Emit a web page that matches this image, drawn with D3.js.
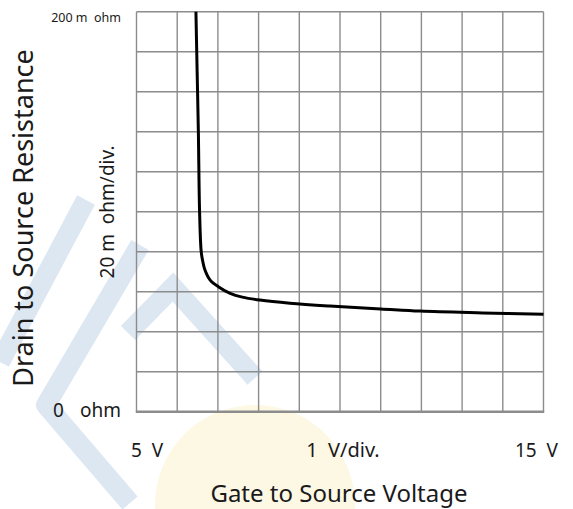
<!DOCTYPE html>
<html>
<head>
<meta charset="utf-8">
<script src="https://cdn.jsdelivr.net/npm/d3@7"></script>
<style>
  html, body { margin: 0; padding: 0; background: #fff; }
  svg { display: block; }
  text { font-family: "Noto Sans", "Open Sans", sans-serif; fill: #1a1a1a; }
</style>
</head>
<body>
<svg id="chart" width="573" height="509"></svg>
<script>
// ---- data ----
const vgs = [6.46, 6.49, 6.52, 6.55, 6.59, 6.63, 6.68, 6.81, 7.01, 7.30, 7.60, 8.03, 8.77, 9.75, 11.0, 11.97, 13.5, 15.0];
const rds = [200, 170, 140, 100, 80, 75, 71, 65.8, 62.5, 59.2, 57.3, 55.8, 54.2, 52.8, 51.4, 50.3, 49.4, 48.7];
const xDomain = [5, 15];
const yDomain = [0, 200];
const xTickLabels = ["5  V", "1  V/div.", "15  V"];
const yTopLabel = "200 m  ohm";
const yBottomLabel = ["0", "ohm"];
const yDivLabel = "20 m  ohm/div.";
const xTitle = "Gate to Source Voltage";
const yTitle = "Drain to Source Resistance";

// ---- layout ----
const svg = d3.select("#chart");
const pL = 136.5, pR = 543.5, pT = 11.7, pB = 411.7;
const x = d3.scaleLinear().domain(xDomain).range([pL, pR]);
const y = d3.scaleLinear().domain(yDomain).range([pB, pT]);

// ---- watermark ----
const wm = svg.append("g").attr("class", "watermark");
wm.append("circle").attr("cx", 255).attr("cy", 505).attr("r", 100)
  .attr("fill", "#fdf7e1").attr("opacity", 0.9);
const band = d3.line();
const wmColor = "#dce7f2";
wm.append("path").attr("d", band([[0, 362], [86, 200]]))
  .attr("fill", "none").attr("stroke", wmColor).attr("stroke-width", 20);
wm.append("path").attr("d", band([[140, 245], [46, 405], [130, 503]]))
  .attr("fill", "none").attr("stroke", wmColor).attr("stroke-width", 20).attr("stroke-linejoin", "round");
wm.append("path").attr("d", band([[128, 333], [173, 287], [255, 378]]))
  .attr("fill", "none").attr("stroke", wmColor).attr("stroke-width", 20).attr("stroke-linejoin", "miter");

// ---- grid ----
const g = svg.append("g");
const xGrid = d3.range(xDomain[0], xDomain[1] + 0.001, 1);
const yGrid = d3.range(yDomain[0], yDomain[1] + 0.001, 20);
g.selectAll("line.v").data(xGrid).join("line")
  .attr("x1", d => x(d)).attr("x2", d => x(d))
  .attr("y1", pT).attr("y2", pB)
  .attr("stroke", "#8c8c8c").attr("stroke-width", 1.4);
g.selectAll("line.h").data(yGrid).join("line")
  .attr("x1", pL).attr("x2", pR)
  .attr("y1", d => y(d)).attr("y2", d => y(d))
  .attr("stroke", "#8c8c8c").attr("stroke-width", 1.4);
g.append("line").attr("x1", pL - 0.7).attr("x2", pR + 0.7)
  .attr("y1", pB).attr("y2", pB)
  .attr("stroke", "#8c8c8c").attr("stroke-width", 2.6);

// ---- curve ----
const pts = vgs.map((v, i) => [v, rds[i]]);
svg.append("path")
  .datum(pts)
  .attr("fill", "none")
  .attr("stroke", "#000")
  .attr("stroke-width", 3)
  .attr("d", d3.line().x(d => x(d[0])).y(d => y(d[1])).curve(d3.curveCatmullRom.alpha(0.5)));

// ---- labels ----
svg.append("text").attr("x", 121).attr("y", 22).attr("text-anchor", "end")
  .attr("font-size", 12.5).attr("xml:space", "preserve").text(yTopLabel);
svg.append("text").attr("x", 53).attr("y", 417).attr("font-size", 19).text(yBottomLabel[0]);
svg.append("text").attr("x", 121).attr("y", 417).attr("text-anchor", "end").attr("font-size", 19).text(yBottomLabel[1]);

svg.append("text").attr("x", 131).attr("y", 457).attr("font-size", 19)
  .attr("xml:space", "preserve").text(xTickLabels[0]);
svg.append("text").attr("x", 343).attr("y", 457).attr("text-anchor", "middle").attr("font-size", 20)
  .attr("xml:space", "preserve").text(xTickLabels[1]);
svg.append("text").attr("x", 558).attr("y", 457).attr("text-anchor", "end").attr("font-size", 19)
  .attr("xml:space", "preserve").text(xTickLabels[2]);

svg.append("text").attr("x", 339).attr("y", 502).attr("text-anchor", "middle")
  .attr("font-size", 24).text(xTitle);

svg.append("text")
  .attr("transform", `translate(33, 218) rotate(-90)`)
  .attr("text-anchor", "middle").attr("font-size", 27).text(yTitle);

svg.append("text")
  .attr("transform", `translate(114, 212) rotate(-90)`)
  .attr("text-anchor", "middle").attr("font-size", 19)
  .attr("xml:space", "preserve").text(yDivLabel);
</script>
</body>
</html>
